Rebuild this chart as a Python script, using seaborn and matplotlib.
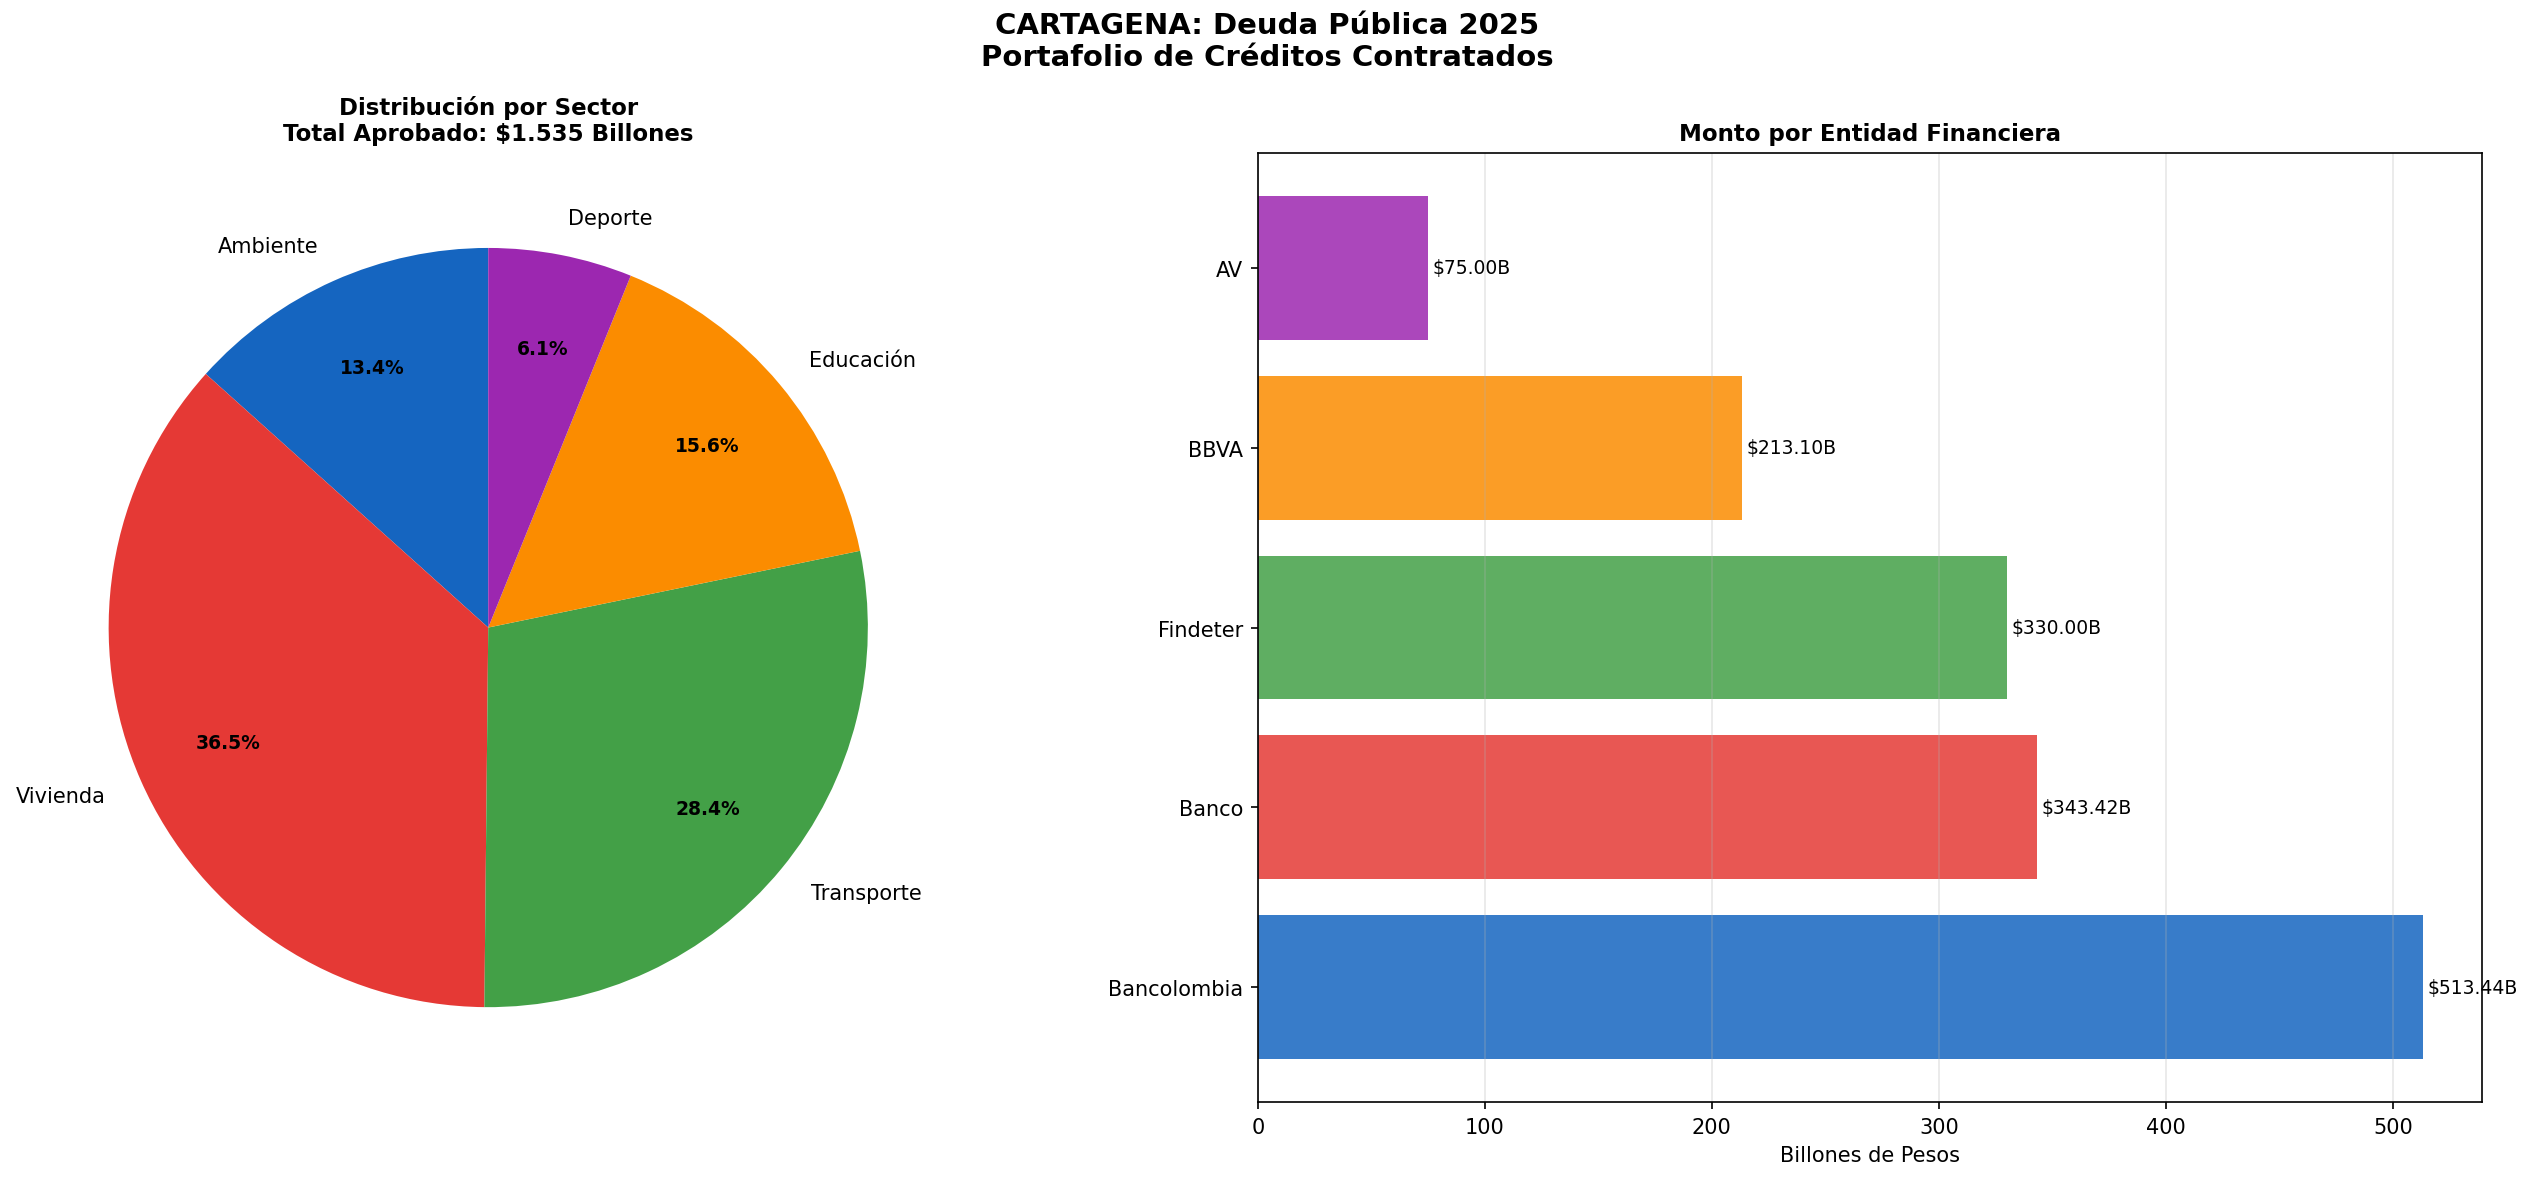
import matplotlib
matplotlib.use("Agg")
import matplotlib.pyplot as plt
import pandas as pd
import seaborn as sns

# sector distribution (billions COP)
sectors = ["Ambiente", "Vivienda", "Transporte", "Educación", "Deporte"]
sector_values = [205, 560, 436, 240, 94]
sector_colors = ["#1565C0", "#E53935", "#43A047", "#FB8C00", "#9C27B0"]

# amount per lender
entities = ["AV", "BBVA", "Findeter", "Banco", "Bancolombia"]
entity_values = [75.00, 213.10, 330.00, 343.42, 513.44]
entity_colors = ["#9C27B0", "#FB8C00", "#43A047", "#E53935", "#1565C0"]

fig, (ax1, ax2) = plt.subplots(1, 2, figsize=(16.9, 7.873))

wedges, texts, autotexts = ax1.pie(
    sector_values,
    labels=sectors,
    colors=sector_colors,
    autopct="%1.1f%%",
    startangle=90,
    pctdistance=0.75,
    textprops={"fontsize": 10},
)
for t in autotexts:
    t.set_fontweight("bold")
    t.set_fontsize(9)
ax1.set_title("Distribución por Sector\nTotal Aprobado: $1.535 Billones",
              fontsize=11, fontweight="bold")

df = pd.DataFrame({"entidad": entities, "monto": entity_values})
sns.barplot(
    data=df, y="entidad", x="monto", hue="entidad", order=entities,
    palette=dict(zip(entities, entity_colors)), orient="h", width=0.8,
    saturation=1, alpha=0.85, legend=False, ax=ax2,
)
ax2.set_ylim(len(entities) - 1 + 0.64, -0.64)
ax2.set_xlim(0, max(entity_values) * 1.05)
for i, v in enumerate(entity_values):
    ax2.text(v + 2, i, f"${v:.2f}B", va="center", fontsize=9)
ax2.set_title("Monto por Entidad Financiera", fontsize=11, fontweight="bold")
ax2.set_xlabel("Billones de Pesos", fontsize=10)
ax2.set_ylabel("")
ax2.tick_params(labelsize=10)
ax2.grid(axis="x", alpha=0.3)

fig.suptitle("CARTAGENA: Deuda Pública 2025\nPortafolio de Créditos Contratados",
             fontsize=14, fontweight="bold", y=0.99)

bottom, height = 0.0658, 0.804
ax1.set_position([(302 - 293.5) / 1568, bottom, 587 / 1568, height])
ax2.set_position([778 / 1568, bottom, (1535 - 778) / 1568, height])

plt.savefig("out.png", dpi=150)
plt.close()
